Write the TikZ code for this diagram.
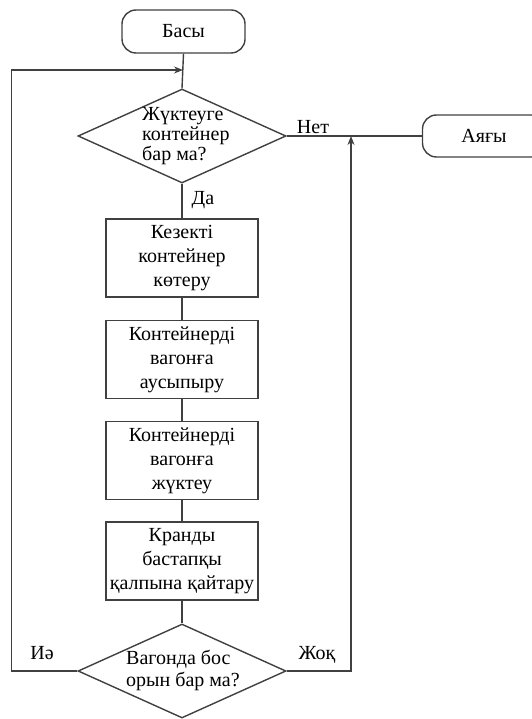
\documentclass[tikz,border=0pt]{standalone}
\usepackage{fontspec}
\setmainfont{Liberation Serif}
\usetikzlibrary{shapes.geometric,arrows.meta}
\begin{document}
\begin{tikzpicture}[x=1pt,y=-1pt,
  line/.style={draw=black!75, line width=1.4pt},
  txt/.style={font=\fontsize{20}{24}\selectfont, text=black},
  term/.style={line, txt, rounded corners=14pt, minimum width=123pt, minimum height=43pt, inner sep=0pt},
  proc/.style={line, txt, minimum width=152pt, minimum height=78pt, align=center, inner sep=0pt},
  dec/.style={line, diamond, minimum width=208pt, minimum height=94pt, inner sep=0pt},
  lbl/.style={txt, inner sep=0pt},
  arr/.style={line, -{Stealth[length=9pt,width=7pt]}}
]
\useasboundingbox (0,0) rectangle (531,719);
\node[term] (start) at (183.5,31.5) {Басы};
\node[dec] (d1) at (182,136) {};
\node[lbl, align=left, font=\fontsize{20}{20}\selectfont, anchor=west] (t1) at (142,136) {Жүктеуге\\контейнер\\бар ма?};
\node[term, minimum height=42pt] (end) at (484,136) {Аяғы};
\node[proc] (b1) at (182,258) {Кезекті\\контейнер\\көтеру};
\node[proc] (b2) at (182,359.5) {Контейнерді\\вагонға\\аусыпыру};
\node[proc] (b3) at (182,460.5) {Контейнерді\\вагонға\\жүктеу};
\node[proc] (b4) at (182,561) {Кранды\\бастапқы\\қалпына қайтару};
\node[dec] (d2) at (182,671) {};
\node[lbl, align=left, font=\fontsize{20}{22}\selectfont, anchor=west] (t2) at (126,670) {Вагонда бос\\орын бар ма?};
\coordinate (j) at (183,70);
\coordinate (m) at (351,136);
\node[lbl] (no) at (313,127) {Нет};
\node[lbl] (yes) at (203,200) {Да};
\node[lbl] (ie) at (42,653) {Иә};
\node[lbl] (zhoq) at (317,655) {Жоқ};
\draw[line] (start.south) -- (d1.north);
\draw[line] (d1.east) -- (end.west);
\draw[line] (d1.south) -- (b1.north);
\draw[line] (b1) -- (b2);
\draw[line] (b2) -- (b3);
\draw[line] (b3) -- (b4);
\draw[line] (b4) -- (d2.north);
\draw[arr] (d2.west) -- ++(-66,0) |- (j);
\draw[arr] (d2.east) -| (m);
\end{tikzpicture}
\end{document}
